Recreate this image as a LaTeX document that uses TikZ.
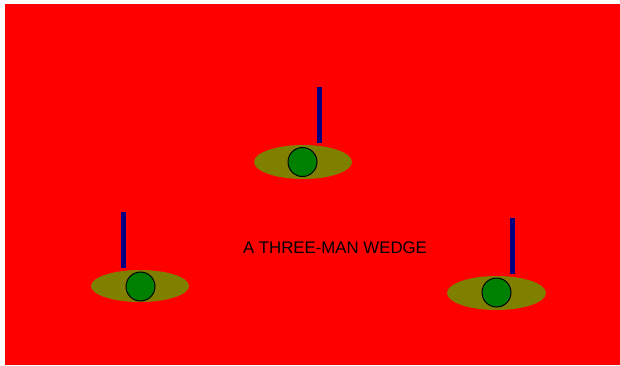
\documentclass[tikz,border=0pt]{standalone}
\usepackage{fontspec}
\setmainfont{Liberation Sans}
\definecolor{bgred}{RGB}{255,0,0}
\definecolor{olivec}{RGB}{128,128,0}
\definecolor{greenc}{RGB}{0,128,0}
\definecolor{navyc}{RGB}{0,0,128}
\tikzset{
  pad/.style={fill=olivec, draw=none},
  head/.style={fill=greenc, draw=black, line width=1pt},
  stick/.style={draw=navyc, line width=4.5pt}
}
\begin{document}
\begin{tikzpicture}[x=1pt,y=-1pt]
\useasboundingbox (0,0) rectangle (620,365);
\fill[white] (0,0) rectangle (620,365);
\fill[bgred] (5,4) rectangle (620,365);
% top
\fill[pad] (303,162) ellipse [x radius=49, y radius=17];
\node[head, circle, minimum size=29pt, inner sep=0pt] (h1) at (302.5,162) {};
\coordinate (t1a) at (319.5,87);
\coordinate (t1b) at (319.5,143);
\draw[stick] (t1a) -- (t1b);
% left
\fill[pad] (140,286) ellipse [x radius=49, y radius=16];
\node[head, circle, minimum size=29pt, inner sep=0pt] (h2) at (140.5,286.5) {};
\coordinate (t2a) at (123.5,212);
\coordinate (t2b) at (123.5,268);
\draw[stick] (t2a) -- (t2b);
% right
\fill[pad] (496.5,293) ellipse [x radius=49.5, y radius=17];
\node[head, circle, minimum size=29pt, inner sep=0pt] (h3) at (496.5,292.5) {};
\coordinate (t3a) at (512.5,218);
\coordinate (t3b) at (512.5,274);
\draw[stick] (t3a) -- (t3b);
\node[font=\fontsize{16.8}{18}\selectfont, text=black, inner sep=0pt] (lbl) at (335,247.5) {A THREE-MAN WEDGE};
\end{tikzpicture}
\end{document}
